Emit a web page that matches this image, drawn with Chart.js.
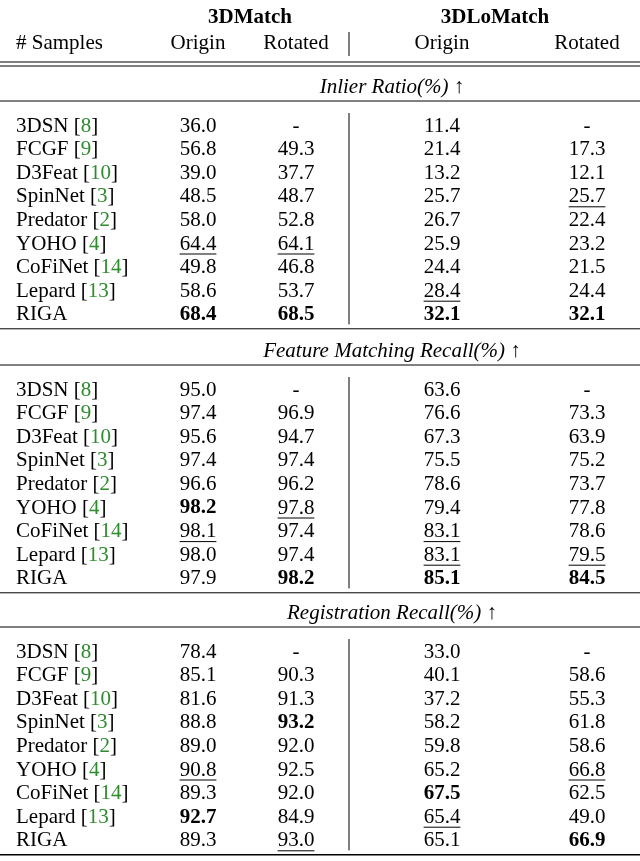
<!DOCTYPE html>
<html>
<head>
<meta charset="utf-8">
<script src="https://cdn.jsdelivr.net/npm/chart.js@4"></script>
<style>
  html, body { margin: 0; padding: 0; background: #fff; }
  #wrap { width: 640px; height: 861px; }
</style>
</head>
<body>
<div id="wrap"><canvas id="table"></canvas></div>
<script>
// Table content
const methods = ["3DSN", "FCGF", "D3Feat", "SpinNet", "Predator", "YOHO", "CoFiNet", "Lepard", "RIGA"]
const cites = ["8", "9", "10", "3", "2", "4", "14", "13", ""]
const columns = ["Origin", "Rotated", "Origin", "Rotated"]
const groups = ["3DMatch", "3DLoMatch"]
const sections = ["Inlier Ratio(%) \u2191", "Feature Matching Recall(%) \u2191", "Registration Recall(%) \u2191"]

const inlierRatio = [
  ["36.0", "-", "11.4", "-"], ["56.8", "49.3", "21.4", "17.3"], ["39.0", "37.7", "13.2", "12.1"],
  ["48.5", "48.7", "25.7", "25.7"], ["58.0", "52.8", "26.7", "22.4"], ["64.4", "64.1", "25.9", "23.2"],
  ["49.8", "46.8", "24.4", "21.5"], ["58.6", "53.7", "28.4", "24.4"], ["68.4", "68.5", "32.1", "32.1"],
]
const inlierMarks = ["....", "....", "....", "...u", "....", "uu..", "....", "..u.", "bbbb"]

const featureRecall = [
  ["95.0", "-", "63.6", "-"], ["97.4", "96.9", "76.6", "73.3"], ["95.6", "94.7", "67.3", "63.9"],
  ["97.4", "97.4", "75.5", "75.2"], ["96.6", "96.2", "78.6", "73.7"], ["98.2", "97.8", "79.4", "77.8"],
  ["98.1", "97.4", "83.1", "78.6"], ["98.0", "97.4", "83.1", "79.5"], ["97.9", "98.2", "85.1", "84.5"],
]
const featureMarks = ["....", "....", "....", "....", "....", "bu..", "u.u.", "..uu", ".bbb"]

const registrationRecall = [
  ["78.4", "-", "33.0", "-"], ["85.1", "90.3", "40.1", "58.6"], ["81.6", "91.3", "37.2", "55.3"],
  ["88.8", "93.2", "58.2", "61.8"], ["89.0", "92.0", "59.8", "58.6"], ["90.8", "92.5", "65.2", "66.8"],
  ["89.3", "92.0", "67.5", "62.5"], ["92.7", "84.9", "65.4", "49.0"], ["89.3", "93.0", "65.1", "66.9"],
]
const registrationMarks = ["....", "....", "....", ".b..", "....", "u..u", "..b.", "b.u.", ".u.b"]

const sectionData = [inlierRatio, featureRecall, registrationRecall]
const sectionMarks = [inlierMarks, featureMarks, registrationMarks]

// layout on the hidden linear scales (units = px of the 640x861 page)
const colX = [198, 296, 442, 587]
const nameX = 16
const sectionTop = [87, 351, 613]
const firstRowOffset = 39
const rowPitch = 23.6
const serif = "'Liberation Serif', 'DejaVu Serif', serif"
const size = "21px "
const green = "#2e8b2e"

// build one dataset of points per section; the labels are drawn at each point element
const datasets = sectionData.map((rows, s) => ({
  data: rows.flatMap((row, r) => row.map((v, c) => ({
    x: colX[c], y: sectionTop[s] + firstRowOffset + r * rowPitch, text: v, mark: sectionMarks[s][r][c],
  }))),
  pointRadius: 0,
  showLine: false,
}))

const tablePlugin = {
  id: "tableText",
  afterDatasetsDraw(chart) {
    const { ctx, scales: { x, y } } = chart
    const px = (v) => x.getPixelForValue(v)
    const py = (v) => y.getPixelForValue(v)
    ctx.save()
    ctx.textBaseline = "middle"
    ctx.fillStyle = "#000"
    ctx.strokeStyle = "#000"

    const hline = (yy, w) => {
      ctx.lineWidth = w
      ctx.beginPath(); ctx.moveTo(px(0), py(yy)); ctx.lineTo(px(640), py(yy)); ctx.stroke()
    }
    const vline = (y0, y1) => {
      ctx.lineWidth = 1
      ctx.beginPath(); ctx.moveTo(px(349), py(y0)); ctx.lineTo(px(349), py(y1)); ctx.stroke()
    }

    // header
    ctx.font = "bold " + size + serif
    ctx.textAlign = "center"
    ctx.fillText(groups[0], px(250), py(18))
    ctx.fillText(groups[1], px(495), py(18))
    ctx.font = size + serif
    ctx.textAlign = "left"
    ctx.fillText("# Samples", px(nameX), py(43))
    ctx.textAlign = "center"
    columns.forEach((c, i) => ctx.fillText(c, px(colX[i]), py(43)))
    vline(32, 56)
    hline(62, 1.2)
    hline(66, 1.2)

    sections.forEach((title, s) => {
      const top = sectionTop[s]
      ctx.font = "italic " + size + serif
      ctx.textAlign = "center"
      ctx.fillText(title, px(392), py(top))
      hline(top + 14, 1)
      // method names with green citations
      methods.forEach((m, r) => {
        const yy = py(top + firstRowOffset + r * rowPitch)
        ctx.font = size + serif
        ctx.textAlign = "left"
        let xx = px(nameX)
        const parts = cites[r] ? [[m + " [", "#000"], [cites[r], green], ["]", "#000"]] : [[m, "#000"]]
        parts.forEach(([t, col]) => {
          ctx.fillStyle = col
          ctx.fillText(t, xx, yy)
          xx += ctx.measureText(t).width
        })
        ctx.fillStyle = "#000"
      })
      vline(top + 26, top + 26 + 9 * rowPitch - 1)
      hline(top + firstRowOffset + 8 * rowPitch + 14, s === 2 ? 1.5 : 1)
    })

    // values from the dataset points
    chart.data.datasets.forEach((ds, di) => {
      const meta = chart.getDatasetMeta(di)
      meta.data.forEach((pt, i) => {
        const d = ds.data[i]
        ctx.font = (d.mark === "b" ? "bold " : "") + size + serif
        ctx.textAlign = "center"
        ctx.fillText(d.text, pt.x, pt.y)
        if (d.mark === "u") {
          const w = ctx.measureText(d.text).width
          ctx.lineWidth = 1
          ctx.beginPath(); ctx.moveTo(pt.x - w / 2, pt.y + 10); ctx.lineTo(pt.x + w / 2, pt.y + 10); ctx.stroke()
        }
      })
    })
    ctx.restore()
  },
}

new Chart(document.getElementById("table"), {
  type: "scatter",
  data: { datasets },
  options: {
    responsive: true,
    maintainAspectRatio: false,
    animation: false,
    layout: { padding: 0 },
    plugins: { legend: { display: false }, tooltip: { enabled: false } },
    scales: {
      x: { type: "linear", min: 0, max: 640, display: false },
      y: { type: "linear", min: 0, max: 861, reverse: true, display: false },
    },
  },
  plugins: [tablePlugin],
})
</script>
</body>
</html>
